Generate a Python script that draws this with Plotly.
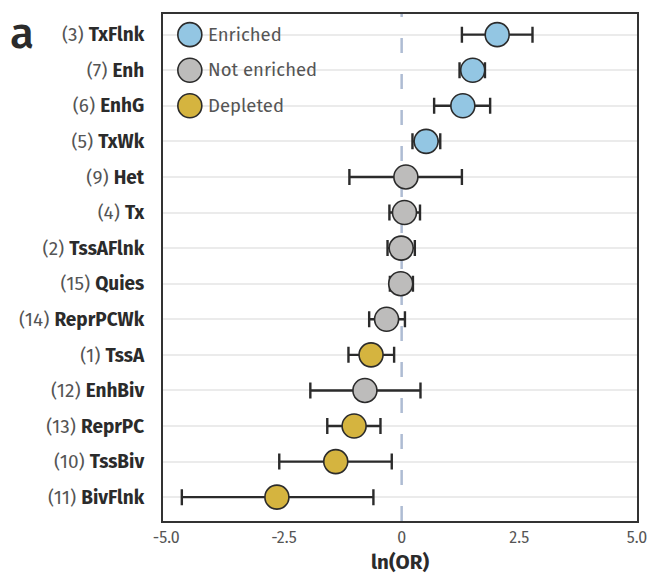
import plotly.graph_objects as go

# Chromatin states (top to bottom), their state numbers, effect sizes and 95% CI
states = ["TxFlnk", "Enh", "EnhG", "TxWk", "Het", "Tx", "TssAFlnk", "Quies",
          "ReprPCWk", "TssA", "EnhBiv", "ReprPC", "TssBiv", "BivFlnk"]
state_ids = [3, 7, 6, 5, 9, 4, 2, 15, 14, 1, 12, 13, 10, 11]
ln_or = [2.03, 1.51, 1.30, 0.52, 0.09, 0.06, -0.01, -0.02, -0.32, -0.65,
         -0.78, -1.01, -1.40, -2.65]
ci_low = [1.28, 1.23, 0.69, 0.23, -1.11, -0.26, -0.30, -0.25, -0.69, -1.13,
          -1.94, -1.58, -2.60, -4.67]
ci_high = [2.78, 1.77, 1.88, 0.82, 1.28, 0.39, 0.28, 0.24, 0.07, -0.16,
           0.40, -0.45, -0.21, -0.60]
status = ["Enriched", "Enriched", "Enriched", "Enriched", "Not enriched",
          "Not enriched", "Not enriched", "Not enriched", "Not enriched",
          "Depleted", "Not enriched", "Depleted", "Depleted", "Depleted"]

groups = ["Enriched", "Not enriched", "Depleted"]
group_colors = {"Enriched": "#93c6e3", "Not enriched": "#bdbcbb",
                "Depleted": "#d5b43f"}

x_ticks = [-5.0, -2.5, 0.0, 2.5, 5.0]
x_tick_text = ["-5.0", "-2.5", "0", "2.5", "5.0"]

FONT = "Fira Sans, Noto Sans, sans-serif"
INK = "#2b2b2b"
SOFT = "#555555"

W, H = 652, 575
ML, MR, MT, MB = 163, 15, 14, 54

fig = go.Figure()

for g in groups:
    idx = [i for i, s in enumerate(status) if s == g]
    fig.add_trace(go.Scatter(
        x=[ln_or[i] for i in idx],
        y=[states[i] for i in idx],
        mode="markers",
        name=g,
        showlegend=False,
        marker=dict(size=24, color=group_colors[g],
                    line=dict(color=INK, width=1.6)),
        error_x=dict(type="data", symmetric=False,
                     array=[ci_high[i] - ln_or[i] for i in idx],
                     arrayminus=[ln_or[i] - ci_low[i] for i in idx],
                     color=INK, thickness=2.4, width=8),
    ))

# Reference line at ln(OR) = 0
fig.add_shape(type="line", xref="x", yref="paper", x0=0, x1=0, y0=0, y1=1,
              line=dict(color="#aebcd3", width=2.5, dash="15px,21px"),
              layer="between")

# Key: circles and labels in the upper-left corner
key_x = -4.50
for k, g in enumerate(groups):
    fig.add_shape(type="circle", xref="x", yref="y",
                  xsizemode="pixel", ysizemode="pixel",
                  xanchor=key_x, yanchor=k,
                  x0=-12, x1=12, y0=-12, y1=12,
                  fillcolor=group_colors[g],
                  line=dict(color=INK, width=1.6), layer="above")
    fig.add_annotation(x=key_x, y=k, xref="x", yref="y", text=g,
                       showarrow=False, xanchor="left", xshift=16,
                       font=dict(family=FONT, size=18.5, color=SOFT))

tick_text = [f'<span style="color:{SOFT}">({n})</span> <b>{s}</b>'
             for n, s in zip(state_ids, states)]

# panel letter, positioned in pixels from the top-left corner of the page
pw, ph = W - ML - MR, H - MT - MB
fig.add_annotation(x=(8 - ML) / pw, y=1 + (MT - 34) / ph,
                   xref="paper", yref="paper", text="a",
                   showarrow=False, xanchor="left", yanchor="middle",
                   font=dict(family=FONT, size=44, color=INK, weight=500))

# x-axis title placed just under the tick labels
fig.add_annotation(x=0.5, y=1 + (MT - 562) / ph, xref="paper", yref="paper",
                   text="<b>ln(OR)</b>", showarrow=False,
                   xanchor="center", yanchor="middle",
                   font=dict(family=FONT, size=20.5, color=INK))

fig.update_layout(
    width=W, height=H,
    margin=dict(l=ML, r=MR, t=MT, b=MB),
    paper_bgcolor="white", plot_bgcolor="white",
    font=dict(family=FONT, color=INK),
    xaxis=dict(range=[-5.07, 5.0], tickvals=x_ticks, ticktext=x_tick_text,
               showgrid=False, zeroline=False, automargin=False,
               showline=True, mirror=True, linecolor="#333333", linewidth=2,
               ticks="", ticklabelstandoff=1,
               tickfont=dict(size=16, color=SOFT)),
    yaxis=dict(type="category", categoryorder="array", categoryarray=states,
               range=[13.67, -0.58], tickvals=states, ticktext=tick_text,
               showgrid=True, gridcolor="#ebebeb", gridwidth=1.5,
               zeroline=False, showline=True, mirror=True, automargin=False,
               linecolor="#333333", linewidth=2, ticks="",
               ticklabelstandoff=13,
               tickfont=dict(size=19, color=INK)),
)

fig.write_html("out.html")
